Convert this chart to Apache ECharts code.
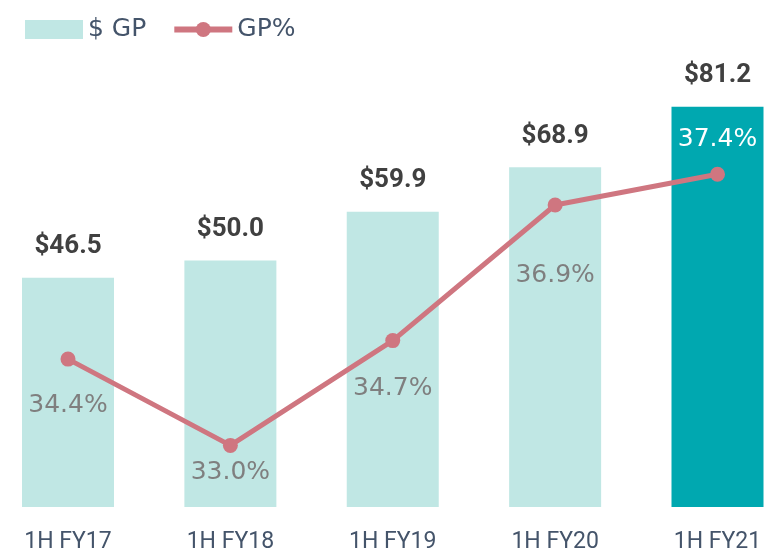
<!DOCTYPE html>
<html lang="en">
<head>
  <meta charset="UTF-8">
  <title>GP</title>
  <script src="https://cdn.jsdelivr.net/npm/echarts@6/dist/echarts.min.js"></script>
  <style>
    html, body { margin: 0; padding: 0; background: #fff; }
    .box { width: 776px; height: 555px; }
  </style>
</head>
<body>
<div class="box"></div>
<script>
  // data
  var categories = ['1H FY17', '1H FY18', '1H FY19', '1H FY20', '1H FY21'];
  var gpValues = [46.5, 50.0, 59.9, 68.9, 81.2];
  var gpPct = [34.4, 33.0, 34.7, 36.9, 37.4];

  // label offsets of the GP% labels (style only)
  var pctLabelDy = [46, 27, 48, 70, -35];

  var lightBar = '#c0e7e4';
  var darkBar = '#00a8b0';
  var lineColor = '#cf7680';

  var box = document.getElementsByClassName('box')[0];
  var chart = echarts.init(box);

  var barData = gpValues.map(function (v, i) {
    return {
      value: v,
      itemStyle: { color: i === gpValues.length - 1 ? darkBar : lightBar }
    };
  });

  var lineData = gpPct.map(function (v, i) {
    return {
      value: v,
      label: {
        offset: [0, pctLabelDy[i]],
        color: i === gpPct.length - 1 ? '#ffffff' : '#7f7f7f'
      }
    };
  });

  var option = {
    animation: false,
    legend: {
      left: 20,
      top: 12,
      itemWidth: 58,
      itemHeight: 19,
      itemGap: 25,
      textStyle: {
        color: '#44546a',
        fontSize: 25,
        fontFamily: 'DejaVu Sans'
      },
      data: [
        { name: '$ GP', icon: 'rect', itemStyle: { color: lightBar } },
        { name: 'GP%', lineStyle: { width: 6, color: lineColor }, itemStyle: { color: lineColor } }
      ]
    },
    grid: {
      left: 68,
      right: 58.5,
      top: 14,
      bottom: 48
    },
    xAxis: {
      type: 'category',
      data: categories,
      boundaryGap: false,
      axisLine: { show: false },
      axisTick: { show: false },
      axisLabel: {
        interval: 0,
        color: '#44546a',
        fontSize: 23,
        fontFamily: 'Roboto',
        margin: 24
      }
    },
    yAxis: [
      {
        type: 'value',
        min: 0,
        max: 100,
        show: false,
        splitLine: { show: false }
      },
      {
        type: 'value',
        min: 32,
        max: 40,
        show: false,
        splitLine: { show: false }
      }
    ],
    series: [
      {
        name: '$ GP',
        type: 'bar',
        barWidth: 92,
        clip: false,
        itemStyle: { color: lightBar },
        data: barData,
        label: {
          show: true,
          position: 'top',
          distance: 18,
          color: '#404040',
          fontSize: 26,
          fontWeight: 'bold',
          fontFamily: 'Roboto',
          formatter: function (p) {
            return '$' + p.value.toFixed(1);
          }
        }
      },
      {
        name: 'GP%',
        type: 'line',
        yAxisIndex: 1,
        symbol: 'circle',
        symbolSize: 15,
        lineStyle: { color: lineColor, width: 5 },
        itemStyle: { color: lineColor },
        data: lineData,
        label: {
          show: true,
          position: 'inside',
          fontSize: 25,
          fontFamily: 'DejaVu Sans',
          formatter: function (p) {
            return p.value.toFixed(1) + '%';
          }
        }
      }
    ]
  };

  chart.setOption(option);
</script>
</body>
</html>
